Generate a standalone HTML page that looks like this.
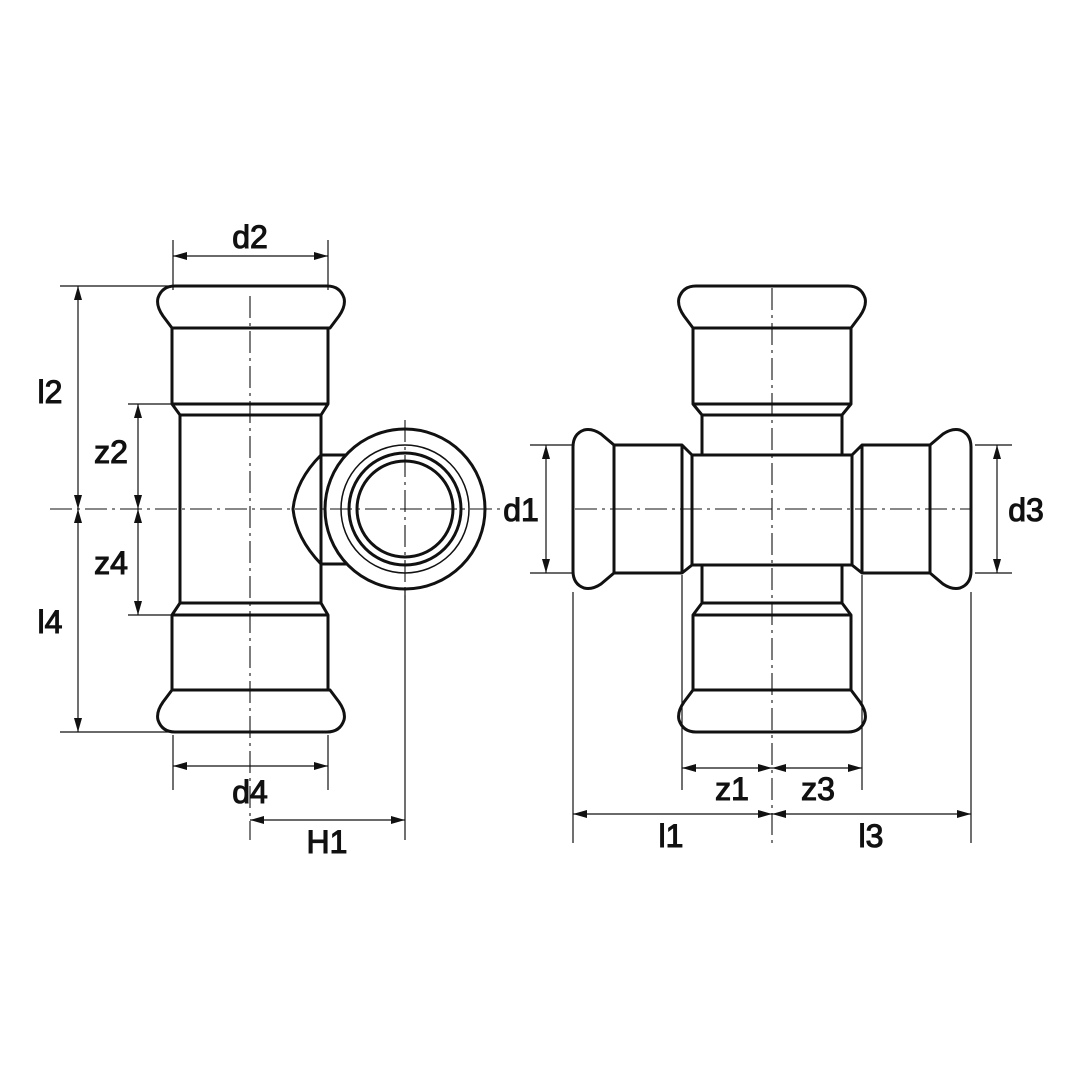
<!DOCTYPE html>
<html><head><meta charset="utf-8"><style>
html,body{margin:0;padding:0;background:#fff;}
svg{display:block;}
text{font-family:"Liberation Sans",sans-serif;font-size:32px;fill:#111;stroke:#111;stroke-width:1.1;text-anchor:middle;}
</style></head><body>
<svg width="1080" height="1080" viewBox="0 0 1080 1080" xmlns="http://www.w3.org/2000/svg">
<defs>
<marker id="a" viewBox="0 0 14 8" refX="14" refY="4" markerWidth="14" markerHeight="8" markerUnits="userSpaceOnUse" orient="auto-start-reverse"><path d="M0,0 L14,4 L0,8 Z" fill="#111"/></marker>
</defs>
<g fill="none" stroke="#111" stroke-width="3" stroke-linejoin="round">
<!-- TEE -->
<path d="M172,328 L163,316 Q156,306 158,298 Q162,286 175,286 L327,286 Q340,286 344,298 Q346,306 339,316 L330,328 Z"/>
<path d="M172,690 L163,702 Q156,712 158,720 Q162,732 175,732 L327,732 Q340,732 344,720 Q346,712 339,702 L330,690 Z"/>
<path d="M172,328 L172,404 L180,415 L180,603 L172,615 L172,690 M328,328 L328,404 L321,415 L321,603 L328,615 L328,690"/>
<line x1="172" y1="404" x2="328" y2="404"/><line x1="180" y1="415" x2="321" y2="415"/>
<line x1="180" y1="603" x2="321" y2="603"/><line x1="172" y1="615" x2="328" y2="615"/>
<path d="M321,455 L348,455 M321,564 L348,564 M321,455 Q296,480 293,509 Q296,538 321,564"/>
<circle cx="405" cy="509" r="80" fill="#fff"/>
<circle cx="405" cy="509" r="64" stroke-width="1.5"/>
<circle cx="405" cy="509" r="56"/>
<circle cx="405" cy="509" r="48"/>
<!-- CROSS -->
<path d="M693,328 L684,316 Q677,306 679,298 Q683,286 696,286 L848,286 Q861,286 865,298 Q867,306 860,316 L851,328 Z"/>
<path d="M693,690 L684,702 Q677,712 679,720 Q683,732 696,732 L848,732 Q861,732 865,720 Q867,712 860,702 L851,690 Z"/>
<path d="M693,328 L693,404 L702,415 L702,455 M851,328 L851,404 L842,415 L842,455"/>
<line x1="693" y1="404" x2="851" y2="404"/><line x1="702" y1="415" x2="842" y2="415"/>
<path d="M693,690 L693,615 L702,603 L702,565 M851,690 L851,615 L842,603 L842,565"/>
<line x1="693" y1="615" x2="851" y2="615"/><line x1="702" y1="603" x2="842" y2="603"/>
<rect x="692" y="455" width="160" height="110"/>
<path d="M614,445 L601,434 Q592,428 584,430 Q573,434 573,447 L573,571 Q573,584 584,588 Q592,590 601,584 L614,573 Z"/>
<path d="M930,445 L943,434 Q952,428 960,430 Q971,434 971,447 L971,571 Q971,584 960,588 Q952,590 943,584 L930,573 Z"/>
<path d="M614,445 L682,445 L692,455 M614,573 L682,573 L692,565 M682,445 L682,573"/>
<path d="M930,445 L862,445 L852,455 M930,573 L862,573 L852,565 M862,445 L862,573"/>
</g>
<g fill="none" stroke="#111" stroke-width="1.2">
<!-- center lines -->
<g stroke-dasharray="22,5,3,5" stroke-width="1.1">
<line x1="250" y1="296" x2="250" y2="840"/>
<line x1="50" y1="509" x2="500" y2="509"/>
<line x1="405" y1="420" x2="405" y2="600"/>
<line x1="772" y1="288" x2="772" y2="845"/>
<line x1="575" y1="509" x2="970" y2="509"/>
</g>
<!-- extension lines -->
<line x1="173" y1="240" x2="173" y2="290"/><line x1="328" y1="240" x2="328" y2="290"/>
<line x1="60" y1="286" x2="172" y2="286"/>
<line x1="128" y1="404" x2="172" y2="404"/>
<line x1="128" y1="615" x2="172" y2="615"/>
<line x1="60" y1="732" x2="172" y2="732"/>
<line x1="173" y1="735" x2="173" y2="790"/><line x1="328" y1="735" x2="328" y2="790"/>
<line x1="405" y1="590" x2="405" y2="840"/>
<line x1="530" y1="445" x2="572" y2="445"/><line x1="530" y1="573" x2="572" y2="573"/>
<line x1="975" y1="445" x2="1012" y2="445"/><line x1="975" y1="573" x2="1012" y2="573"/>
<line x1="573" y1="592" x2="573" y2="843"/><line x1="971" y1="592" x2="971" y2="843"/>
<line x1="682" y1="575" x2="682" y2="790"/><line x1="862" y1="575" x2="862" y2="790"/>
<!-- dim lines -->
<line x1="173" y1="256" x2="328" y2="256" marker-start="url(#a)" marker-end="url(#a)"/>
<line x1="78" y1="286" x2="78" y2="509" marker-start="url(#a)" marker-end="url(#a)"/>
<line x1="78" y1="509" x2="78" y2="732" marker-start="url(#a)" marker-end="url(#a)"/>
<line x1="138" y1="404" x2="138" y2="509" marker-start="url(#a)" marker-end="url(#a)"/>
<line x1="138" y1="509" x2="138" y2="615" marker-start="url(#a)" marker-end="url(#a)"/>
<line x1="173" y1="766" x2="328" y2="766" marker-start="url(#a)" marker-end="url(#a)"/>
<line x1="250" y1="820" x2="405" y2="820" marker-start="url(#a)" marker-end="url(#a)"/>
<line x1="546" y1="445" x2="546" y2="573" marker-start="url(#a)" marker-end="url(#a)"/>
<line x1="997" y1="445" x2="997" y2="573" marker-start="url(#a)" marker-end="url(#a)"/>
<line x1="682" y1="768" x2="772" y2="768" marker-start="url(#a)" marker-end="url(#a)"/>
<line x1="772" y1="768" x2="862" y2="768" marker-start="url(#a)" marker-end="url(#a)"/>
<line x1="573" y1="814" x2="772" y2="814" marker-start="url(#a)" marker-end="url(#a)"/>
<line x1="772" y1="814" x2="971" y2="814" marker-start="url(#a)" marker-end="url(#a)"/>
</g>
<text x="250" y="248">d2</text>
<text x="50" y="403">l2</text>
<text x="111" y="463">z2</text>
<text x="111" y="574">z4</text>
<text x="50" y="633">l4</text>
<text x="250" y="803">d4</text>
<text x="327" y="853">H1</text>
<text x="521" y="521">d1</text>
<text x="1026" y="521">d3</text>
<text x="732" y="800">z1</text>
<text x="818" y="800">z3</text>
<text x="671" y="847">l1</text>
<text x="871" y="847">l3</text>
</svg>
</body></html>
